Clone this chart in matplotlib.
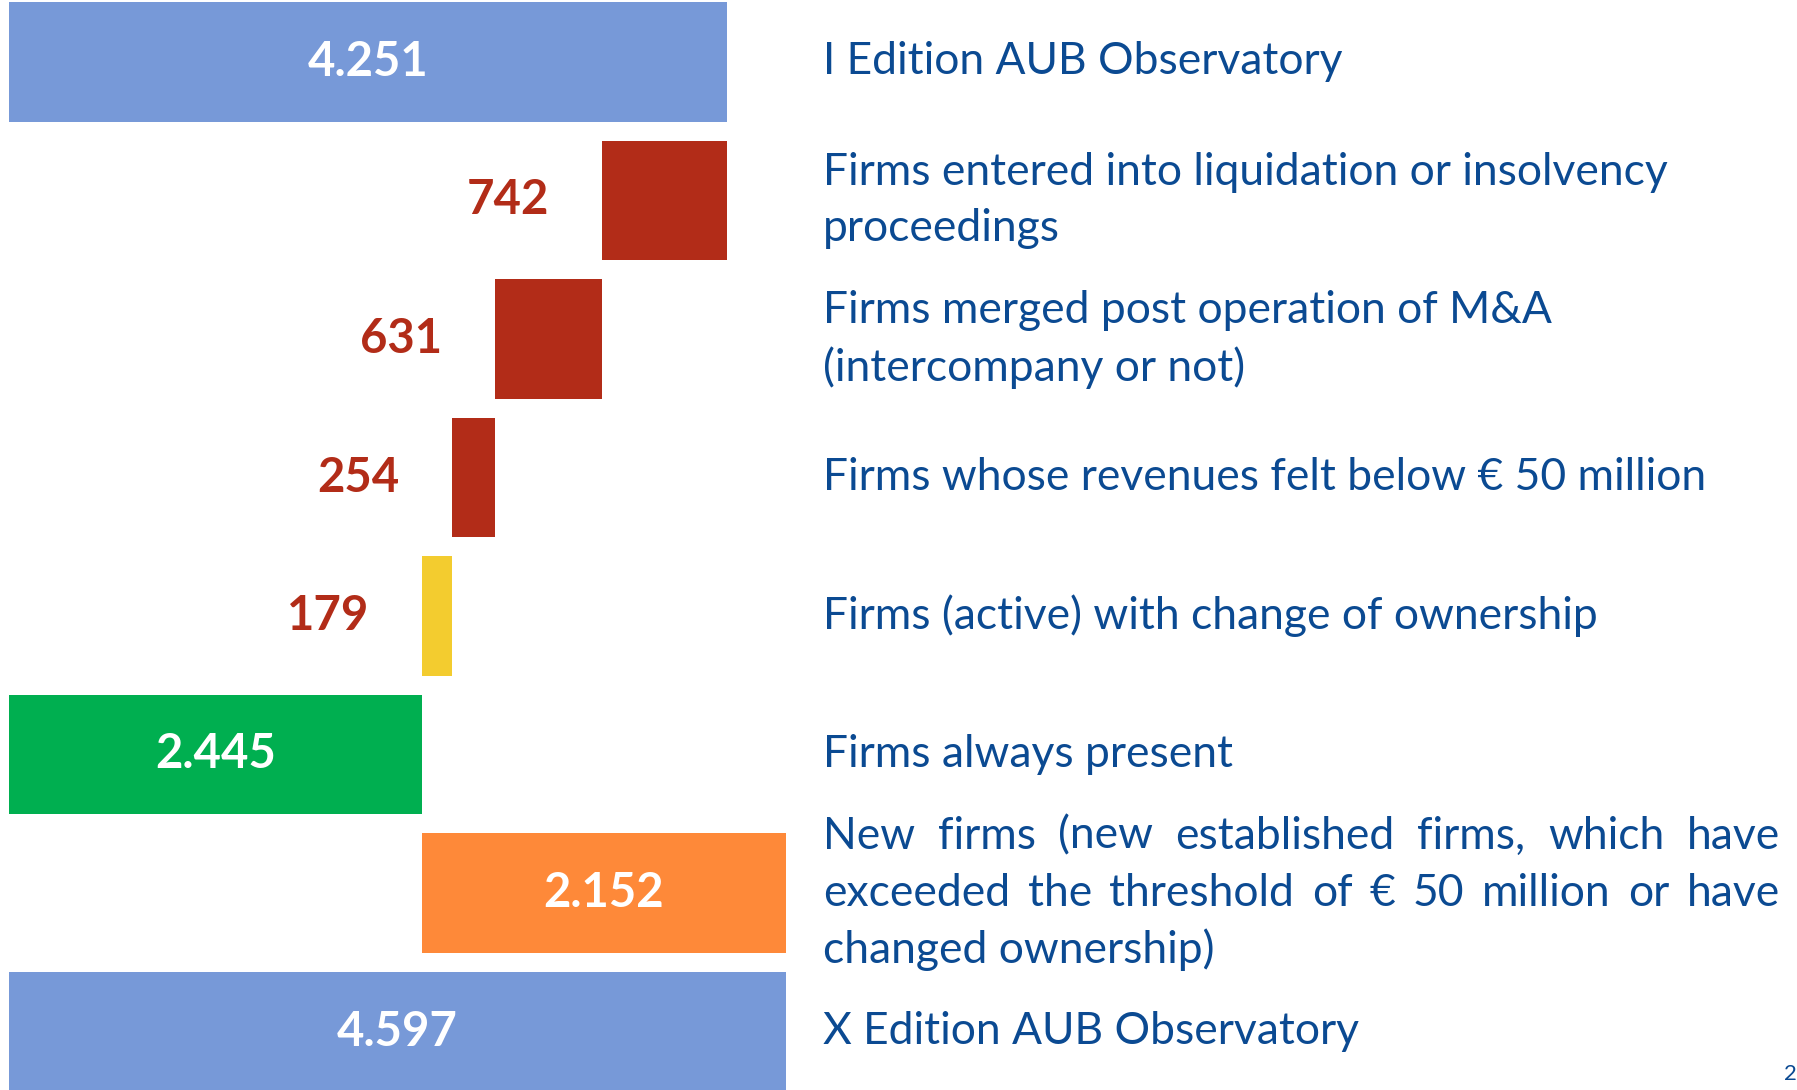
import matplotlib.pyplot as plt
import numpy as np

# ── Data ─────────────────────────────────────────────────────────────────────
step_values = [4251, 742, 631, 254, 179, 2445, 2152, 4597]
step_kinds = ['total', 'down', 'down', 'down', 'down', 'subtotal', 'up', 'total']
step_labels = [
    ['I Edition AUB Observatory'],
    ['Firms entered into liquidation or insolvency', 'proceedings'],
    ['Firms merged post operation of M&A', '(intercompany or not)'],
    ['Firms whose revenues felt below € 50 million'],
    ['Firms (active) with change of ownership'],
    ['Firms always present'],
    ['New firms (new established firms, which have',
     'exceeded the threshold of € 50 million or have',
     'changed ownership)'],
    ['X Edition AUB Observatory'],
]
justify_lines = [[False], [False, False], [False, False], [False], [False], [False],
                 [True, True, False], [False]]

BAR_COLORS = ['#7799D8', '#B22C18', '#B22C18', '#B22C18', '#F3CC2F',
              '#00AF50', '#FE8939', '#7799D8']
TEXT_BLUE = '#0B4A92'
NUM_RED = '#B22C18'

plt.rcParams['font.family'] = ['Lato', 'DejaVu Sans']

# ── Waterfall geometry ───────────────────────────────────────────────────────
lefts, widths = [], []
running = 0
for v, kind in zip(step_values, step_kinds):
    if kind in ('total', 'subtotal'):
        lefts.append(0)
        widths.append(v)
        running = v
    elif kind == 'down':
        running -= v
        lefts.append(running)
        widths.append(v)
    else:
        lefts.append(running)
        widths.append(v)
        running += v

# ── Plot ─────────────────────────────────────────────────────────────────────
W, H = 1797, 1090
fig = plt.figure(figsize=(W / 100, H / 100), dpi=100)
ax = fig.add_axes([0, 0, 1, 1])
ax.set_axis_off()

scale = 0.169            # pixels per unit
x0_px = 9
ax.set_xlim(-x0_px / scale, (W - x0_px) / scale)
row_px, row0_px = 138.5, 62
ax.set_ylim((H - row0_px) / row_px, -row0_px / row_px)

y = np.arange(len(step_values))
ax.barh(y, widths, left=lefts, height=0.86, color=BAR_COLORS, edgecolor='none')

for i, (v, kind) in enumerate(zip(step_values, step_kinds)):
    if kind in ('total', 'subtotal', 'up'):
        txt = f'{v:,}'.replace(',', '.')
        ax.text(lefts[i] + widths[i] / 2, i, txt, ha='center', va='center',
                color='white', fontsize=34, fontweight='bold')
    else:
        ax.annotate(str(v), (lefts[i], i), xytext=(-38, 0), textcoords='offset points',
                    ha='right', va='center', color=NUM_RED, fontsize=34,
                    fontweight='bold')

# ── Category labels (right side) ─────────────────────────────────────────────
renderer = fig.canvas.get_renderer()
# size the label font so the longest single line is ~881 px wide, as in the slide
probe = ax.text(0, 0, step_labels[3][0], fontsize=30)
label_fs = 30 * 881 / probe.get_window_extent(renderer).width
probe.remove()

tx0, tx1 = 0.458, 0.9905
line_step = 0.41
for i, (lines, just) in enumerate(zip(step_labels, justify_lines)):
    n = len(lines)
    for k, (line, j) in enumerate(zip(lines, just)):
        ly = i + (k - (n - 1) / 2) * line_step
        if not j:
            ax.text(tx0, ly, line, transform=ax.get_yaxis_transform(),
                    ha='left', va='center', color=TEXT_BLUE, fontsize=label_fs)
            continue
        words = line.split(' ')
        objs = [ax.text(0, ly, w, transform=ax.get_yaxis_transform(), ha='left',
                        va='center', color=TEXT_BLUE, fontsize=label_fs) for w in words]
        wfrac = [o.get_window_extent(renderer).width / W for o in objs]
        gap = (tx1 - tx0 - sum(wfrac)) / (len(words) - 1)
        xpos = tx0
        for o, wf in zip(objs, wfrac):
            o.set_x(xpos)
            xpos += wf + gap

fig.text(1784 / W, 1 - 1084 / H, '2', ha='left', va='bottom', color=TEXT_BLUE, fontsize=16)

fig.savefig('out.png', dpi=100)
